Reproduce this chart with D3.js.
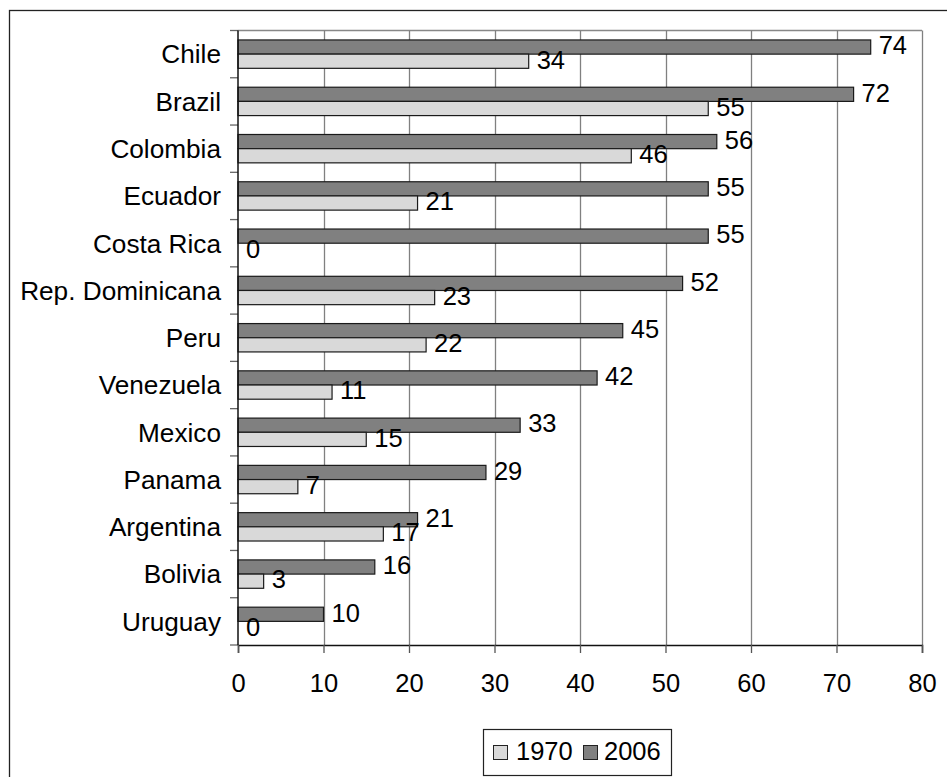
<!DOCTYPE html>
<html>
<head>
<meta charset="utf-8">
<script src="https://cdn.jsdelivr.net/npm/d3@7"></script>
<style>
  html, body { margin: 0; padding: 0; background: #fff; }
  svg { display: block; }
  text { font-family: "Liberation Sans", Arial, sans-serif; fill: #000; }
</style>
</head>
<body>
<svg id="chart" width="947" height="777"></svg>
<script>
const categories = ["Chile", "Brazil", "Colombia", "Ecuador", "Costa Rica", "Rep. Dominicana", "Peru", "Venezuela", "Mexico", "Panama", "Argentina", "Bolivia", "Uruguay"];
const values1970 = [34, 55, 46, 21, 0, 23, 22, 11, 15, 7, 17, 3, 0];
const values2006 = [74, 72, 56, 55, 55, 52, 45, 42, 33, 29, 21, 16, 10];
const seriesNames = ["2006", "1970"];
const xTicks = [0, 10, 20, 30, 40, 50, 60, 70, 80];
const legendNames = ["1970", "2006"];

const colors = { "1970": "#d9d9d9", "2006": "#808080" };
const FS = 25.5;
const FS_CAT = 26.2;

const svg = d3.select("#chart");

// outer frame (only left & top visible)
svg.append("rect")
  .attr("x", 9.5).attr("y", 10.5)
  .attr("width", 1000).attr("height", 1000)
  .attr("fill", "none").attr("stroke", "#222").attr("stroke-width", 1.3);

const plot = { left: 238, right: 922, top: 30.5, bottom: 645 };

const x = d3.scaleLinear().domain([0, 80]).range([plot.left, plot.right]);
const y = d3.scaleBand().domain(categories).range([plot.top, plot.bottom])
  .paddingInner(0.4).paddingOuter(0.2);
const ySub = d3.scaleBand().domain(seriesNames).range([0, y.bandwidth()]);
const step = y.step();

// plot top border
svg.append("line")
  .attr("x1", plot.left).attr("x2", plot.right)
  .attr("y1", plot.top).attr("y2", plot.top)
  .attr("stroke", "#888").attr("stroke-width", 1.3);

// gridlines
svg.append("g").selectAll("line").data(xTicks.filter(t => t > 0)).join("line")
  .attr("x1", d => Math.round(x(d)) + 0.5).attr("x2", d => Math.round(x(d)) + 0.5)
  .attr("y1", plot.top).attr("y2", plot.bottom)
  .attr("stroke", "#808080").attr("stroke-width", 1.3);

// left ticks at band boundaries
const boundaries = d3.range(categories.length + 1).map(i => plot.top + i * step);
svg.append("g").selectAll("line").data(boundaries).join("line")
  .attr("x1", plot.left - 8).attr("x2", plot.left)
  .attr("y1", d => d).attr("y2", d => d)
  .attr("stroke", "#666").attr("stroke-width", 1.3);

// bars
const rows = [];
categories.forEach((c, i) => {
  rows.push({ cat: c, series: "2006", value: values2006[i] });
  rows.push({ cat: c, series: "1970", value: values1970[i] });
});

svg.append("g").selectAll("rect").data(rows.filter(d => d.value > 0)).join("rect")
  .attr("x", x(0))
  .attr("y", d => y(d.cat) + ySub(d.series))
  .attr("width", d => x(d.value) - x(0))
  .attr("height", ySub.bandwidth())
  .attr("fill", d => colors[d.series])
  .attr("stroke", "#1a1a1a").attr("stroke-width", 1.2);

// value labels
svg.append("g").selectAll("text").data(rows).join("text")
  .attr("x", d => x(d.value) + 8)
  .attr("y", d => y(d.cat) + ySub(d.series) + ySub.bandwidth() / 2 + 7.3)
  .attr("font-size", FS)
  .text(d => d.value);

// left axis line
svg.append("line")
  .attr("x1", plot.left).attr("x2", plot.left)
  .attr("y1", plot.top).attr("y2", plot.bottom)
  .attr("stroke", "#111").attr("stroke-width", 1.5);

// category labels
svg.append("g").selectAll("text").data(categories).join("text")
  .attr("x", 221)
  .attr("y", d => y(d) + y.bandwidth() / 2 + 9.3)
  .attr("text-anchor", "end")
  .attr("font-size", FS_CAT)
  .text(d => d);

// bottom axis
const xAxis = d3.axisBottom(x).tickValues(xTicks).tickSize(8).tickPadding(20);
const gx = svg.append("g").attr("transform", `translate(0,${plot.bottom})`).call(xAxis);
gx.select(".domain").attr("stroke", "#111").attr("stroke-width", 1.5);
gx.selectAll(".tick line").attr("stroke", "#555").attr("stroke-width", 1.3);
gx.selectAll(".tick text")
  .attr("font-size", FS)
  .attr("font-family", "'Liberation Sans', Arial, sans-serif")
  .attr("fill", "#000")
  .attr("dy", null)
  .attr("y", 46.5);

// legend
const lg = svg.append("g");
lg.append("rect")
  .attr("x", 483.5).attr("y", 729.5).attr("width", 188).attr("height", 46)
  .attr("fill", "#fff").attr("stroke", "#222").attr("stroke-width", 1.2);
const legendPos = [{ sx: 493.5, tx: 516 }, { sx: 583.5, tx: 604 }];
legendNames.forEach((n, i) => {
  lg.append("rect")
    .attr("x", legendPos[i].sx).attr("y", 745.5).attr("width", 14).attr("height", 14)
    .attr("fill", colors[n]).attr("stroke", "#222").attr("stroke-width", 1);
  lg.append("text")
    .attr("x", legendPos[i].tx).attr("y", 760)
    .attr("font-size", FS)
    .text(n);
});
</script>
</body>
</html>
